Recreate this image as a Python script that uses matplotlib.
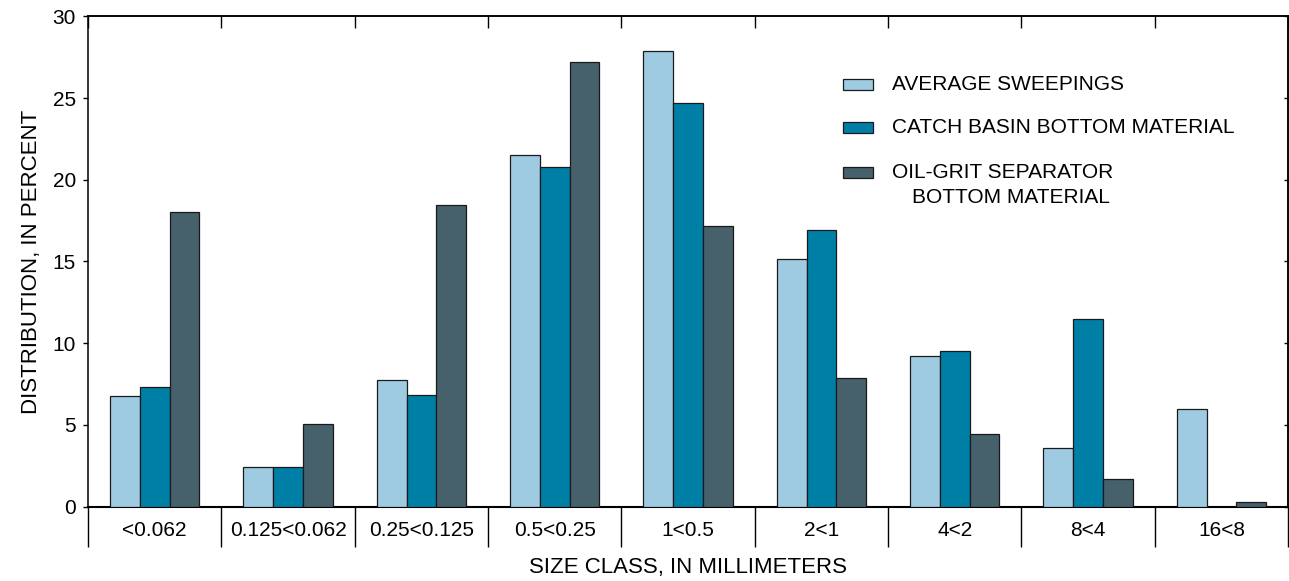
import numpy as np
import matplotlib
matplotlib.use("Agg")
from matplotlib import pyplot as plt
from matplotlib.patches import Rectangle

plt.rcParams['font.family'] = ['Liberation Sans', 'DejaVu Sans']

# size classes, in millimeters
size_classes = ['<0.062', '0.125<0.062', '0.25<0.125', '0.5<0.25', '1<0.5',
                '2<1', '4<2', '8<4', '16<8']

# distribution, in percent
sweepings = [6.8, 2.4, 7.75, 21.5, 27.9, 15.15, 9.2, 3.6, 5.95]
catch_basin = [7.35, 2.45, 6.85, 20.8, 24.7, 16.9, 9.55, 11.5, 0.0]
oil_grit = [18.0, 5.05, 18.45, 27.2, 17.15, 7.9, 4.45, 1.7, 0.28]

series_names = ['AVERAGE SWEEPINGS', 'CATCH BASIN BOTTOM MATERIAL', 'OIL-GRIT SEPARATOR']
colors = ['#9ecbe2', '#007fa6', '#46606c']

fig = plt.figure(figsize=(12.89, 5.81), dpi=100)
ax = fig.add_axes([0.0683, 0.1279, 0.931, 0.8441])

x = np.arange(len(size_classes))
w = 0.223
for i, vals in enumerate([sweepings, catch_basin, oil_grit]):
    ax.bar(x + (i - 1) * w, vals, width=w, color=colors[i],
           edgecolor='#1a1a1a', linewidth=0.9, zorder=3)

ax.set_xlim(-0.5, len(size_classes) - 0.5)
ax.set_ylim(0, 30)

# bottom: boundaries as long outward ticks, labels on minor ticks at centers
bounds = np.arange(len(size_classes) + 1) - 0.5
ax.set_xticks(bounds)
ax.set_xticklabels([])
ax.set_xticks(x, minor=True)
ax.set_xticklabels(size_classes, minor=True, fontsize=15)
ax.tick_params(axis='x', which='major', direction='out', length=29, width=1, color='black')
ax.tick_params(axis='x', which='minor', length=0, pad=10)

ax.set_yticks(np.arange(0, 31, 5))
ax.tick_params(axis='y', which='major', direction='out', length=3.6, width=1, labelsize=15, pad=5)

# top and right inner ticks
top = ax.secondary_xaxis('top')
top.set_xticks(bounds)
top.set_xticklabels([])
top.tick_params(direction='in', length=8.6, width=1)
right = ax.secondary_yaxis('right')
right.set_yticks(np.arange(0, 31, 5))
right.set_yticklabels([])
right.tick_params(direction='in', length=3, width=1)

for s in ax.spines.values():
    s.set_linewidth(1.1)
ax.spines['bottom'].set_linewidth(1.5)
for s in list(top.spines.values()) + list(right.spines.values()):
    s.set_linewidth(1.1)

ax.set_xlabel('SIZE CLASS, IN MILLIMETERS', fontsize=16, labelpad=4)
ax.set_ylabel('DISTRIBUTION, IN PERCENT', fontsize=16, labelpad=8)

# legend drawn by hand so the patch sits next to the first line
lx, tx = 0.629, 0.670
rows = [0.860, 0.774, 0.682]
for i, name in enumerate(series_names):
    ax.add_patch(Rectangle((lx, rows[i] - 0.0112), 0.025, 0.0224, transform=ax.transAxes,
                           facecolor=colors[i], edgecolor='#1a1a1a', linewidth=0.9,
                           clip_on=False, zorder=4))
    ax.text(tx, rows[i], name, transform=ax.transAxes, fontsize=15, va='center', ha='left')
ax.text(tx + 0.0165, rows[2] - 0.051, 'BOTTOM MATERIAL', transform=ax.transAxes,
        fontsize=15, va='center', ha='left')

fig.savefig('out.png', dpi=100)
